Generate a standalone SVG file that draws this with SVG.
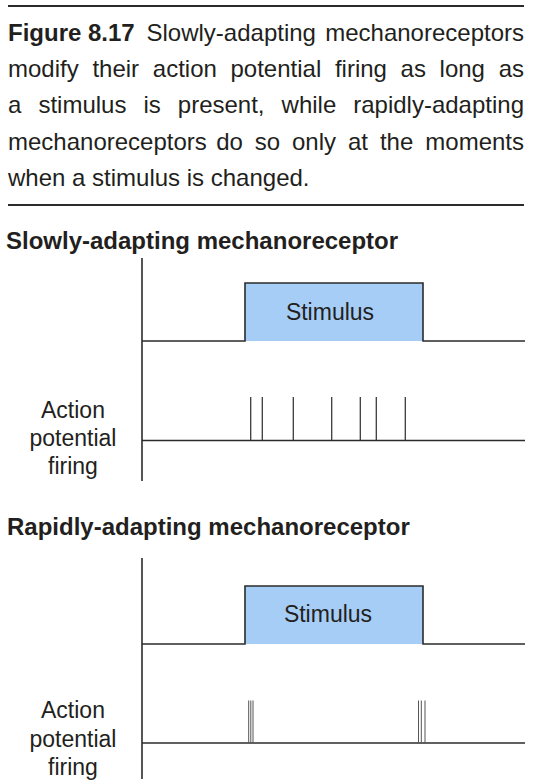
<svg xmlns="http://www.w3.org/2000/svg" width="538" height="783" viewBox="0 0 538 783">
<style>
text{font-family:"Liberation Sans",Arial,sans-serif;fill:#231f20}
.cap{font-size:24px}
.b{font-weight:bold}
.h{font-size:24px;font-weight:bold}
.lbl{font-size:23px;text-anchor:middle}
.rule{stroke:#2b2b2b;stroke-width:2.2}
.ax{stroke:#2b2b2b;stroke-width:1.6;fill:none}
.sp{stroke:#3a3a3a;stroke-width:1.3}
.sp2{stroke:#555;stroke-width:1}
.stim{fill:#a6cdf6}
</style>
<g id="caption">
<line class="rule" x1="8" y1="6" x2="524" y2="6"/>
<text class="cap" y="41"><tspan x="8" class="b">Figure 8.17</tspan><tspan x="146.5">Slowly-adapting</tspan></text>
<text class="cap" x="524" y="41" text-anchor="end">mechanoreceptors</text>
<text class="cap" y="77"><tspan x="8">modify</tspan><tspan x="92.4">their</tspan><tspan x="152.8">action</tspan><tspan x="230.5">potential</tspan><tspan x="334.9">firing</tspan><tspan x="400.6">as</tspan><tspan x="439.6">long</tspan></text>
<text class="cap" x="524" y="77" text-anchor="end">as</text>
<text class="cap" y="113"><tspan x="8">a</tspan><tspan x="38.4">stimulus</tspan><tspan x="143.4">is</tspan><tspan x="177.8">present,</tspan><tspan x="281.6">while</tspan></text>
<text class="cap" x="524" y="113" text-anchor="end">rapidly-adapting</text>
<text class="cap" y="149.5"><tspan x="8">mechanoreceptors</tspan><tspan x="216.2">do</tspan><tspan x="254.8">so</tspan><tspan x="292">only</tspan><tspan x="347.9">at</tspan><tspan x="379.9">the</tspan></text>
<text class="cap" x="524" y="149.5" text-anchor="end">moments</text>
<text class="cap" x="8" y="186">when a stimulus is changed.</text>
<line class="rule" x1="8" y1="205" x2="524" y2="205"/>
</g>
<g id="slow-panel">
<text class="h" x="6" y="249">Slowly-adapting mechanoreceptor</text>
<rect class="stim" x="245" y="283" width="178" height="58"/>
<line class="ax" x1="142" y1="258" x2="142" y2="481"/>
<polyline class="ax" points="142,341 245,341 245,283 423,283 423,341 525,341"/>
<text class="lbl" x="330" y="320">Stimulus</text>
<line class="ax" x1="142" y1="440.5" x2="525" y2="440.5"/>
<text class="lbl" x="73" y="418">Action</text>
<text class="lbl" x="73" y="446">potential</text>
<text class="lbl" x="73" y="474">firing</text>
<g id="slow-spikes">
<line class="sp" x1="250.7" y1="397" x2="250.7" y2="440"/>
<line class="sp" x1="262.3" y1="397" x2="262.3" y2="440"/>
<line class="sp" x1="293.3" y1="397" x2="293.3" y2="440"/>
<line class="sp" x1="331.7" y1="397" x2="331.7" y2="440"/>
<line class="sp" x1="360.3" y1="397" x2="360.3" y2="440"/>
<line class="sp" x1="376.3" y1="397" x2="376.3" y2="440"/>
<line class="sp" x1="405.3" y1="397" x2="405.3" y2="440"/>
</g>
</g>
<g id="rapid-panel">
<text class="h" x="7" y="535">Rapidly-adapting mechanoreceptor</text>
<rect class="stim" x="245" y="586" width="178" height="58"/>
<line class="ax" x1="142" y1="558" x2="142" y2="779"/>
<polyline class="ax" points="142,644 245,644 245,586 423,586 423,644 525,644"/>
<text class="lbl" x="328" y="622">Stimulus</text>
<line class="ax" x1="142" y1="743" x2="525" y2="743"/>
<text class="lbl" x="73" y="718">Action</text>
<text class="lbl" x="73" y="747">potential</text>
<text class="lbl" x="73" y="775">firing</text>
<g id="rapid-spikes">
<line class="sp2" x1="248.7" y1="700.5" x2="248.7" y2="743"/>
<line class="sp2" x1="250.8" y1="700.5" x2="250.8" y2="743"/>
<line class="sp2" x1="253" y1="700.5" x2="253" y2="743"/>
<line class="sp2" x1="418.5" y1="700.5" x2="418.5" y2="743"/>
<line class="sp2" x1="421.3" y1="700.5" x2="421.3" y2="743"/>
<line class="sp2" x1="425" y1="700.5" x2="425" y2="743"/>
</g>
</g>
</svg>
